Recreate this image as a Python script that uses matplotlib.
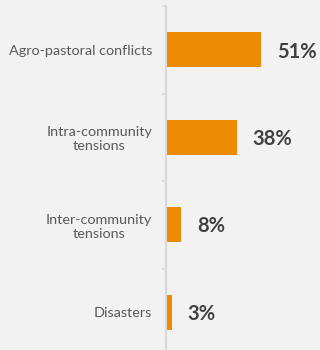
import matplotlib.pyplot as plt
import numpy as np

categories = ["Agro-pastoral conflicts", "Intra-community\ntensions",
              "Inter-community\ntensions", "Disasters"]
values = [51, 38, 8, 3]
value_labels = ["51%", "38%", "8%", "3%"]

bg = "#f2f2f2"
plt.rcParams['font.family'] = ['Lato', 'DejaVu Sans']

fig = plt.figure(figsize=(3.2, 3.5), dpi=100, facecolor=bg)
ax = fig.add_axes([166 / 320, -6 / 350, 154 / 320, 1.0])
ax.set_facecolor(bg)

y = np.arange(len(categories))
ax.barh(y, values, height=0.4, color="#ed8b00", zorder=2)

for yi, v, lab in zip(y, values, value_labels):
    ax.text(v + 8.5, yi + 0.02, lab, va="center", ha="left", fontsize=14.5,
            fontweight="bold", color="#404040")

ax.set_xlim(0, 82.5)
ax.set_ylim(len(categories) - 0.5, -0.5)
ax.set_yticks(y)
ax.set_yticklabels(categories, fontsize=10.4, color="#595959",
                   ha="right", multialignment="center")
ax.tick_params(axis="y", which="major", length=0, pad=10)
ax.set_yticks(np.arange(-0.5, len(categories), 1), minor=True)
ax.tick_params(axis="y", which="minor", length=3, width=1.2, color="#d9d9d9")
ax.set_xticks([])

for s in ["top", "right", "bottom"]:
    ax.spines[s].set_visible(False)
ax.spines["left"].set_color("#d9d9d9")
ax.spines["left"].set_linewidth(1.5)

fig.savefig("out.png", dpi=100, facecolor=bg)
